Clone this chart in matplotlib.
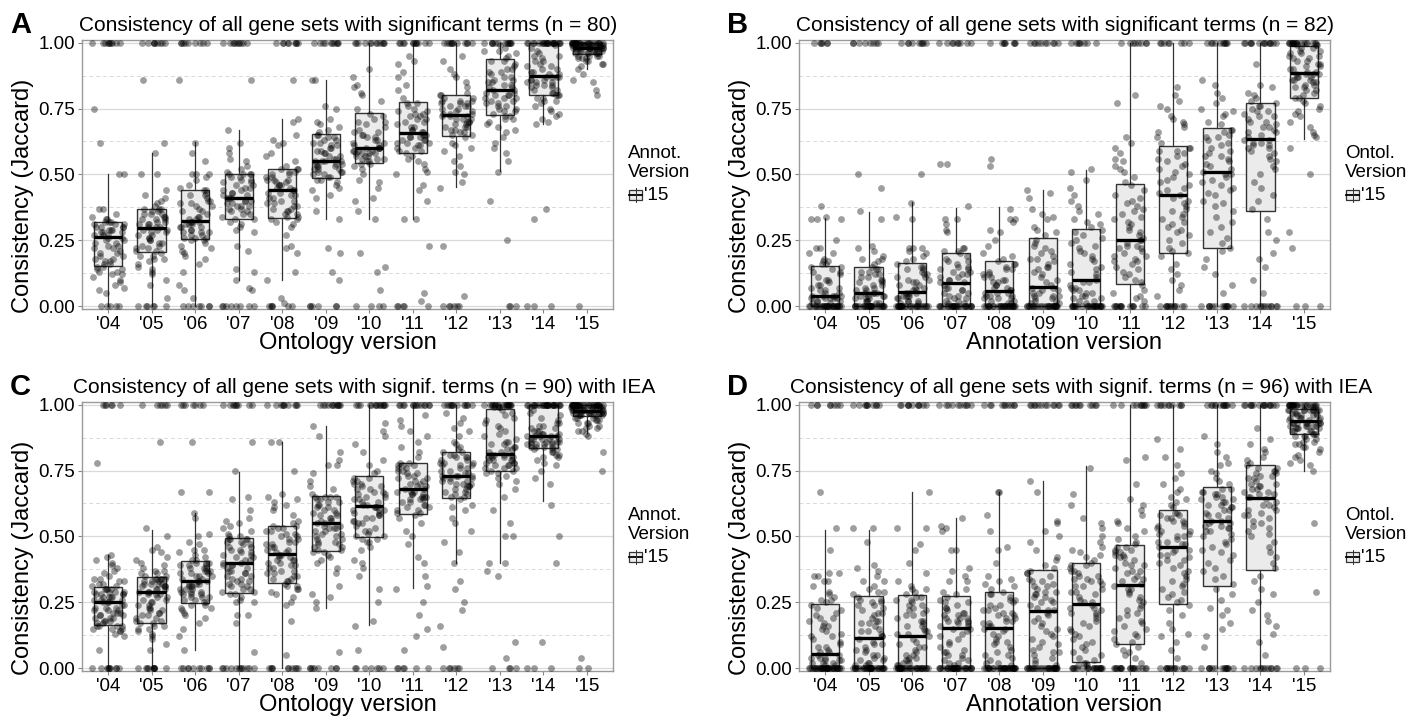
import numpy as np
import matplotlib.pyplot as plt
from matplotlib.patches import Rectangle
from matplotlib.lines import Line2D

plt.rcParams['font.family'] = ['Liberation Sans', 'DejaVu Sans']

years = ["'04", "'05", "'06", "'07", "'08", "'09", "'10", "'11", "'12", "'13", "'14", "'15"]

# ---- A: ontology versions, annotation '15, n = 80
a_q1 = [0.153, 0.204, 0.254, 0.329, 0.336, 0.487, 0.543, 0.582, 0.645, 0.726, 0.80, 0.956]
a_med = [0.264, 0.298, 0.322, 0.41, 0.44, 0.55, 0.60, 0.657, 0.725, 0.82, 0.874, 0.98]
a_q3 = [0.32, 0.369, 0.442, 0.50, 0.521, 0.655, 0.733, 0.776, 0.80, 0.937, 1.0, 1.0]
a_lo = [0.0, 0.0, 0.0, 0.099, 0.10, 0.33, 0.332, 0.332, 0.452, 0.512, 0.69, 0.90]
a_hi = [0.503, 0.58, 0.623, 0.667, 0.71, 0.86, 1.0, 1.0, 1.0, 1.0, 1.0, 1.0]
a_zeros = [5, 6, 7, 8, 6, 6, 4, 5, 6, 3, 3, 1]
a_ones = [10, 9, 9, 10, 9, 10, 12, 12, 12, 13, 22, 25]
a_mid = [
    "05 06 07 08 09 10 11 12 12 13 13 14 14 15 15 16 16 17 17 18 18 19 19 20 20 21 22 22 23 23 24 24 25 25 26 26 27 27 27 28 28 28 29 29 29 30 30 30 30 31 31 31 32 32 32 33 33 34 35 37 37 50 50 62 75",
    "03 08 10 12 13 14 15 16 17 18 18 19 19 20 21 21 22 22 23 23 24 24 25 25 26 26 27 27 28 28 29 29 29 30 30 30 31 31 31 32 32 33 33 33 34 34 35 35 35 36 36 37 37 37 38 39 40 41 42 44 50 50 58 62 86",
    "03 06 08 13 16 18 19 20 21 22 23 24 25 25 26 26 26 27 27 28 28 28 29 29 30 30 30 31 31 31 32 32 32 33 33 34 34 35 36 36 37 38 38 39 39 40 40 41 42 42 43 44 44 45 46 48 49 50 50 50 55 58 62 86",
    "06 07 10 13 14 21 23 28 29 30 31 32 33 33 34 35 35 36 36 37 37 38 38 38 39 39 40 40 40 41 41 41 42 42 43 43 44 44 45 45 46 46 47 47 48 48 49 49 50 50 50 50 51 52 53 55 56 58 60 62 67 86",
    "01 03 10 13 20 22 23 27 30 31 32 33 33 34 34 35 35 36 36 37 37 38 38 39 39 40 40 41 41 42 42 43 43 44 44 45 45 46 46 46 47 47 48 48 48 49 49 50 50 51 51 52 52 52 53 55 57 58 61 62 63 65 70 71 86",
    "10 13 20 22 33 36 41 42 44 45 46 47 48 48 49 49 50 50 51 51 51 52 52 52 53 53 53 54 54 54 55 55 55 55 56 56 57 57 58 58 59 59 60 60 61 61 62 62 63 63 64 64 65 65 66 67 68 69 70 71 75 76 86 86",
    "06 13 15 20 33 36 40 41 45 47 48 50 52 53 54 54 55 55 56 56 56 57 57 57 58 58 58 58 59 59 59 59 60 60 60 60 61 61 62 62 63 63 64 64 65 65 66 66 67 68 69 70 70 71 72 73 75 78 80 81 83 84 87 90",
    "02 05 23 33 33 40 44 46 50 51 52 54 55 56 57 58 59 59 60 60 61 61 62 62 62 63 63 63 64 64 64 65 65 65 66 66 67 67 68 68 69 70 70 71 71 72 72 73 73 74 74 75 76 77 77 79 82 84 87 89 92 93 95",
    "04 23 45 47 50 51 53 55 57 59 60 61 62 64 65 65 66 66 67 67 68 68 68 69 69 70 70 70 71 71 71 72 72 72 73 73 73 74 74 75 75 76 76 76 77 77 77 78 78 78 79 79 80 80 81 83 85 87 88 90 93 95",
    "25 40 51 55 58 60 62 64 66 67 68 69 70 71 71 72 72 73 74 74 75 75 76 76 77 77 78 78 79 79 79 80 80 80 81 81 82 82 83 83 84 84 85 85 86 86 87 87 88 89 89 90 90 91 92 93 93 94 95 96 97 97 98 99",
    "33 37 69 70 71 72 73 74 75 76 77 78 78 79 79 80 80 80 81 81 82 82 83 83 84 84 84 85 85 85 86 86 86 87 87 87 87 88 88 89 89 90 90 91 91 92 93 93 94 95 95 96 97 98 99",
    "80 82 85 86 88 90 91 92 92 93 93 94 94 94 95 95 95 95 96 96 96 96 96 96 97 97 97 97 97 97 98 98 98 98 98 98 98 98 98 98 98 99 99 99 99 99 99 99 99 99 99 99 99 99",
]

# ---- B: annotation versions, ontology '15, n = 82
b_q1 = [0.0, 0.0, 0.0, 0.0, 0.0, 0.0, 0.0, 0.085, 0.20, 0.219, 0.36, 0.79]
b_med = [0.037, 0.049, 0.053, 0.087, 0.059, 0.071, 0.099, 0.25, 0.42, 0.508, 0.636, 0.885]
b_q3 = [0.152, 0.147, 0.162, 0.20, 0.172, 0.257, 0.291, 0.465, 0.607, 0.676, 0.772, 0.986]
b_lo = [0.0, 0.0, 0.0, 0.0, 0.0, 0.0, 0.0, 0.0, 0.0, 0.0, 0.0, 0.636]
b_hi = [0.333, 0.358, 0.396, 0.374, 0.377, 0.44, 0.516, 1.0, 1.0, 1.0, 1.0, 1.0]
b_zeros = [28, 27, 27, 26, 27, 26, 25, 14, 12, 14, 12, 3]
b_ones = [6, 8, 9, 9, 8, 10, 8, 8, 8, 10, 14, 18]
b_mid = [
    "01 01 02 02 02 03 03 03 03 03 04 04 04 04 04 05 05 06 06 07 07 08 08 09 10 10 11 12 13 13 14 15 15 16 16 17 17 18 20 20 22 22 25 33 33 33 34 38",
    "01 01 02 02 02 03 03 03 04 04 04 04 05 05 05 05 06 06 07 07 08 08 09 09 10 10 11 11 12 12 13 13 14 14 15 16 17 18 18 19 21 22 23 33 36 45 50",
    "01 01 02 02 02 03 03 04 04 04 04 05 05 05 06 06 07 07 08 08 09 09 10 10 11 11 12 12 13 14 14 15 15 16 17 18 19 20 21 22 22 22 33 34 39 50",
    "01 01 02 02 03 03 04 04 05 05 06 06 07 07 08 09 09 10 10 11 11 12 12 13 13 14 14 15 15 16 17 17 18 19 20 21 21 22 22 28 29 31 33 33 38 54 54",
    "01 01 02 02 03 03 03 04 04 04 05 05 05 06 06 07 07 08 08 09 09 10 10 11 11 12 12 13 14 14 15 16 16 17 18 19 20 23 25 28 29 32 33 33 37 53 56",
    "01 01 02 02 03 03 04 04 04 05 05 06 06 07 07 08 09 10 11 12 13 14 15 15 16 17 18 18 19 20 21 22 23 24 25 27 28 29 30 33 34 35 37 41 43 44",
    "01 02 02 03 03 04 04 05 05 06 06 07 07 08 09 09 10 11 12 13 14 15 16 17 18 19 20 21 22 23 24 25 26 27 28 29 30 31 32 33 35 36 38 40 42 45 48 51 52",
    "02 03 04 05 06 08 09 10 11 12 13 14 15 16 17 17 18 19 19 20 21 22 22 23 23 24 25 25 26 27 28 29 30 31 32 33 34 35 36 37 38 39 40 41 42 44 46 47 49 51 52 53 55 56 58 60 62 64 77 80",
    "04 06 08 10 12 14 16 19 20 21 22 24 25 27 28 29 30 31 32 33 34 35 36 37 38 39 40 41 42 43 44 45 46 47 48 49 50 51 52 53 54 55 56 57 58 59 59 60 60 62 64 66 68 69 70 71 72 75 76 78 80 83",
    "05 08 12 15 18 21 22 24 26 28 30 32 34 36 38 39 40 42 43 44 45 46 47 48 49 50 50 51 52 53 54 55 56 57 57 58 59 60 61 62 63 64 64 65 66 67 67 69 70 72 73 74 75 77 79 81 84 86",
    "05 10 15 18 20 25 28 33 37 40 42 45 47 50 52 53 55 56 57 58 59 60 60 61 61 62 62 63 63 64 65 66 66 67 68 68 69 70 70 71 72 72 73 74 74 75 76 76 77 78 79 80 81 83 84 92",
    "22 28 50 60 64 65 66 68 70 72 73 74 75 76 77 78 79 79 80 81 82 82 83 83 84 84 85 85 86 86 86 87 87 87 88 88 88 88 89 89 90 90 91 91 92 92 93 93 94 94 95 95 96 96 97 97 98 98 99 99 99",
]

# ---- C: ontology versions with IEA, n = 90
c_q1 = [0.165, 0.172, 0.247, 0.285, 0.323, 0.445, 0.499, 0.586, 0.647, 0.749, 0.837, 0.956]
c_med = [0.25, 0.288, 0.329, 0.398, 0.433, 0.552, 0.614, 0.678, 0.73, 0.812, 0.88, 0.977]
c_q3 = [0.307, 0.345, 0.405, 0.495, 0.539, 0.655, 0.728, 0.78, 0.82, 0.984, 1.0, 1.0]
c_lo = [0.0, 0.0, 0.069, 0.0, 0.0, 0.229, 0.164, 0.305, 0.40, 0.40, 0.634, 0.893]
c_hi = [0.43, 0.526, 0.587, 0.746, 0.857, 0.92, 1.0, 1.0, 1.0, 1.0, 1.0, 1.0]
c_zeros = [10, 10, 10, 12, 10, 8, 7, 6, 6, 4, 3, 2]
c_ones = [6, 6, 7, 9, 10, 12, 14, 14, 13, 20, 26, 30]
c_mid = [
    "07 12 13 14 14 15 15 15 16 16 16 16 17 17 18 18 18 19 19 19 20 20 20 21 21 21 22 22 22 23 23 23 24 24 25 25 25 26 26 26 27 27 27 27 28 28 28 28 29 29 29 29 30 30 30 30 31 31 32 32 33 33 34 34 35 36 37 38 39 40 41 42 43 78",
    "07 09 11 12 13 14 15 15 16 16 17 17 18 18 19 19 20 20 21 21 22 22 23 23 24 24 25 25 26 26 27 27 28 28 28 29 29 29 30 30 30 31 31 31 31 32 32 32 32 33 33 33 34 34 34 34 34 35 35 36 36 37 37 38 39 40 41 42 44 45 46 50 53 86",
    "07 12 15 17 19 20 21 22 23 23 24 24 25 25 26 26 27 27 27 28 28 28 29 29 29 30 30 30 31 31 31 32 32 32 33 33 33 34 34 35 35 35 36 36 36 37 37 37 38 38 38 39 39 39 40 40 40 41 41 42 86 43 44 45 45 47 48 50 51 57 59 67 67",
    "06 17 20 20 25 25 26 27 28 28 29 29 30 30 31 31 32 32 33 33 34 34 35 35 36 36 37 37 38 38 39 39 39 40 40 41 41 42 42 43 43 44 44 45 45 46 46 47 47 48 48 49 49 49 49 50 50 51 52 53 54 55 56 57 60 64 65 75 86",
    "05 18 24 25 27 28 29 30 30 31 31 32 33 33 34 34 35 35 36 36 37 37 38 38 39 39 40 40 41 41 41 42 42 43 43 44 44 45 45 46 46 47 47 48 48 49 49 50 50 51 51 52 52 53 53 54 54 55 56 58 60 61 62 63 64 65 66 75 86 86",
    "06 23 25 27 28 31 36 38 40 41 42 43 44 44 45 45 46 46 47 47 48 48 49 49 50 50 51 51 52 52 53 53 53 54 54 55 55 56 56 57 57 58 58 59 59 60 60 61 61 62 62 63 63 64 64 65 65 65 65 66 68 69 71 74 77 77 79 82 88 92",
    "07 16 18 25 30 35 38 40 41 45 46 48 48 49 49 50 50 51 52 52 53 54 55 55 56 56 57 57 58 58 59 59 60 60 60 61 61 61 62 62 63 63 64 64 65 65 66 66 67 67 68 68 69 69 70 70 71 71 72 72 74 75 77 79 82 85 88 90 93",
    "07 12 15 20 25 30 31 35 40 42 47 50 52 55 57 58 59 59 60 60 61 61 62 62 63 63 64 64 64 65 65 65 66 66 66 67 67 67 68 68 69 69 70 70 71 71 72 72 73 73 74 74 75 75 76 76 77 77 77 78 78 80 82 84 86 88 90 92 94 96",
    "08 16 22 25 30 33 40 44 48 52 55 57 60 61 62 64 65 65 66 66 67 67 68 68 69 69 69 70 70 70 71 71 71 72 72 72 73 73 73 73 74 74 75 75 76 76 77 77 77 78 78 78 79 79 80 80 80 81 81 82 82 83 84 85 86 88 90 91 93 95 97",
    "04 10 35 37 40 40 50 50 55 60 65 68 70 71 72 73 74 74 75 75 76 76 76 77 77 77 78 78 78 79 79 79 79 80 80 80 80 81 81 81 81 82 82 83 83 84 84 85 85 86 86 87 88 89 90 91 92 93 94 95 96 97 98 99 99 99",
    "10 40 50 62 70 72 75 77 78 79 80 80 81 81 82 82 83 83 83 84 84 84 84 85 85 85 85 85 86 86 86 86 86 87 87 87 87 87 88 88 88 88 88 89 89 89 90 90 90 91 91 92 92 93 93 94 95 96 97 98 99",
    "04 75 82 88 89 90 90 91 91 92 92 93 93 93 94 94 94 95 95 95 96 96 96 96 96 96 97 97 97 97 97 97 97 97 97 97 98 98 98 98 98 98 98 98 98 98 99 99 99 99 99 99 99 99 99 99 99 99",
]

# ---- D: annotation versions with IEA, n = 96
d_q1 = [0.0, 0.0, 0.0, 0.0, 0.0, 0.0, 0.023, 0.09, 0.245, 0.312, 0.372, 0.888]
d_med = [0.053, 0.116, 0.123, 0.151, 0.151, 0.215, 0.243, 0.314, 0.459, 0.558, 0.645, 0.936]
d_q3 = [0.245, 0.274, 0.279, 0.272, 0.287, 0.372, 0.40, 0.469, 0.60, 0.689, 0.771, 0.985]
d_lo = [0.0, 0.0, 0.0, 0.0, 0.0, 0.0, 0.0, 0.0, 0.0, 0.0, 0.0, 0.748]
d_hi = [0.526, 0.526, 0.667, 0.57, 0.668, 0.711, 0.767, 1.0, 1.0, 1.0, 1.0, 1.0]
d_zeros = [35, 30, 30, 30, 30, 26, 20, 18, 14, 14, 12, 3]
d_ones = [8, 10, 11, 10, 10, 12, 10, 10, 10, 13, 16, 22]
d_mid = [
    "01 01 02 02 02 03 03 03 04 04 04 05 05 06 06 07 08 08 09 10 11 12 12 13 14 15 16 16 17 18 19 19 20 21 22 23 24 25 26 26 27 28 29 31 33 33 35 35 36 36 45 53 67",
    "01 01 02 02 03 03 04 04 05 05 06 07 07 08 09 09 10 11 12 12 13 14 14 15 16 17 17 18 18 19 20 21 21 22 23 24 24 25 25 26 26 27 28 29 29 30 31 33 33 35 37 38 39 48 53 53",
    "01 01 02 02 03 03 04 04 05 05 06 07 08 08 09 10 11 12 13 13 14 14 15 16 16 17 18 18 19 20 20 21 22 22 23 24 24 25 26 26 27 27 28 29 30 30 31 33 36 40 45 47 53 53 67",
    "01 02 02 03 03 04 05 05 06 06 07 08 09 10 11 12 13 14 15 15 16 16 17 17 18 18 18 19 19 19 20 20 21 21 22 23 23 24 25 25 26 27 28 29 30 33 33 35 37 38 45 45 52 53 54 57",
    "01 02 02 03 04 05 05 06 07 08 09 10 10 11 12 13 14 15 15 16 16 17 17 18 18 19 19 20 20 21 21 22 22 23 24 24 25 26 26 27 28 28 29 30 31 32 33 34 35 40 45 46 52 58 67 67",
    "01 02 03 04 05 06 06 07 08 09 10 11 12 13 14 15 16 17 18 19 20 21 22 22 23 24 25 25 26 27 27 28 28 29 29 30 31 31 32 33 33 34 35 36 36 37 38 39 41 42 45 48 50 52 55 56 67 71",
    "01 01 02 02 03 04 05 06 07 08 09 10 11 12 13 14 15 16 17 18 19 20 21 21 22 23 23 24 25 25 26 27 28 29 29 30 31 31 32 33 33 34 34 35 35 36 37 37 38 39 39 40 41 42 43 44 45 46 48 50 53 55 57 62 66 76",
    "02 04 05 06 07 08 09 10 11 12 13 14 15 16 17 18 19 20 21 22 23 24 25 26 27 28 29 30 30 31 32 33 34 34 35 36 37 37 38 39 39 40 41 42 42 43 43 44 44 45 45 46 46 47 48 49 50 52 53 55 56 58 60 62 64 70 79 80",
    "04 07 10 12 13 15 17 20 22 24 25 26 27 28 29 30 31 32 33 34 35 36 37 38 39 40 41 41 42 43 43 44 45 45 46 47 47 48 48 49 50 50 51 51 52 52 53 54 54 55 56 56 57 57 58 58 59 59 61 62 63 64 65 67 68 70 72 74 77 80 83 87",
    "08 12 15 17 20 22 23 26 28 30 32 34 35 37 38 40 41 43 44 45 46 47 48 49 50 51 52 52 53 53 54 54 55 55 56 56 57 58 58 59 60 60 61 61 62 62 63 63 64 64 65 65 66 66 67 67 68 68 70 71 72 74 75 77 78 80 82 85 88",
    "05 10 13 16 18 20 22 25 28 30 33 35 38 40 42 44 46 48 50 51 52 53 54 55 56 57 58 58 59 60 60 61 62 62 63 64 65 65 66 66 67 67 68 68 69 69 70 70 71 72 72 73 73 74 74 75 75 76 76 77 78 79 80 82 83 85 87 91",
    "29 55 75 77 78 79 80 81 82 83 84 84 85 85 86 86 87 87 88 88 88 89 89 89 90 90 90 90 91 91 91 91 92 92 92 92 92 93 93 93 93 93 93 93 93 94 94 94 95 95 95 95 96 96 96 96 97 97 97 97 98 98 98 98 98 98 98 98 98 99 99",
]

W, H = 1424, 717
fig = plt.figure(figsize=(W / 100, H / 100), dpi=100)


def px(x, y):
    return x / W, 1 - y / H


def parse(s):
    return [int(v) / 100 for v in s.split()]


def jitter(n, k):
    # horizontal spread of the dots (position only, like geom_jitter)
    i = np.arange(n) + 1.0
    h = np.sin(i * 12.9898 + (k + 1) * 78.233) * 43758.5453
    return (h - np.floor(h) - 0.5) * 0.76


def draw_panel(rect, q1, med, q3, lo, hi, zeros, ones, mids):
    ax = fig.add_axes(rect)
    stats = []
    for i in range(12):
        stats.append(dict(med=med[i], q1=q1[i], q3=q3[i], whislo=lo[i], whishi=hi[i], fliers=[]))
    ax.bxp(stats, positions=range(1, 13), widths=0.65, patch_artist=True,
           showcaps=False, showfliers=False,
           boxprops=dict(facecolor='#EBEBEB', edgecolor='#333333', linewidth=1.0),
           medianprops=dict(color='black', linewidth=2.4, solid_capstyle='butt'),
           whiskerprops=dict(color='#333333', linewidth=0.9), zorder=2)
    for i in range(12):
        ys = np.array([0.0] * zeros[i] + [1.0] * ones[i] + parse(mids[i]))
        xs = i + 1 + jitter(len(ys), i)
        ax.scatter(xs, ys, s=24, color='black', alpha=0.38, linewidths=0, zorder=3)
    ax.set_xlim(0.4, 12.6)
    ax.set_ylim(-0.011, 1.01)
    ax.set_xticks(range(1, 13))
    ax.set_xticklabels(years)
    ax.set_yticks([0, 0.25, 0.5, 0.75, 1.0])
    ax.set_yticklabels(['0.00', '0.25', '0.50', '0.75', '1.00'])
    ax.set_yticks([0.125, 0.375, 0.625, 0.875], minor=True)
    ax.grid(axis='y', which='major', color='#D9D9D9', lw=0.9)
    ax.grid(axis='y', which='minor', color='#D9D9D9', lw=0.7, ls=(0, (4, 3)))
    ax.set_axisbelow(True)
    ax.tick_params(which='minor', length=0)
    ax.tick_params(which='major', length=3, color='#888888', labelsize=13.5, pad=2)
    for sp in ax.spines.values():
        sp.set_color('#9A9A9A')
        sp.set_linewidth(1.0)
    return ax


def legend_glyph(x, y, title, label):
    # title lines, then a small boxplot key and its label (pixel coords)
    fig.text(*px(x, y - 31), title, fontsize=13.5, ha='left', va='center', linespacing=1.2)
    bx, by = px(x + 1, y + 6)
    bw, bh = 13 / W, 10 / H
    fig.add_artist(Rectangle((bx, by), bw, bh, transform=fig.transFigure,
                             facecolor='#EBEBEB', edgecolor='#333333', lw=0.9))
    cx = bx + bw / 2
    fig.add_artist(Line2D([bx, bx + bw], [by + bh / 2, by + bh / 2], transform=fig.transFigure,
                          color='black', lw=1.3))
    fig.add_artist(Line2D([cx, cx], [by - 2 / H, by + bh + 2 / H], transform=fig.transFigure,
                          color='#333333', lw=0.7))
    fig.text(*px(x + 16, y + 1), label, fontsize=13.5, ha='left', va='center')


panels = [
    ('A', (82, 40), "Consistency of all gene sets with significant terms (n = 80)", 'Ontology version',
     "Annot.\nVersion", (a_q1, a_med, a_q3, a_lo, a_hi, a_zeros, a_ones, a_mid)),
    ('B', (799, 40), "Consistency of all gene sets with significant terms (n = 82)", 'Annotation version',
     "Ontol.\nVersion", (b_q1, b_med, b_q3, b_lo, b_hi, b_zeros, b_ones, b_mid)),
    ('C', (82, 402), "Consistency of all gene sets with signif. terms (n = 90) with IEA", 'Ontology version',
     "Annot.\nVersion", (c_q1, c_med, c_q3, c_lo, c_hi, c_zeros, c_ones, c_mid)),
    ('D', (799, 402), "Consistency of all gene sets with signif. terms (n = 96) with IEA", 'Annotation version',
     "Ontol.\nVersion", (d_q1, d_med, d_q3, d_lo, d_hi, d_zeros, d_ones, d_mid)),
]

for letter, (lx, ty), title, xlabel, legtitle, data in panels:
    aw, ah = 531, 269
    rect = [lx / W, 1 - (ty + ah) / H, aw / W, ah / H]
    ax = draw_panel(rect, *data)
    fig.text(*px(lx - 72, ty - 7), letter, fontsize=21, fontweight='bold', ha='left', va='baseline')
    fig.text(*px(lx - 3 - (6 if letter in 'CD' else 0), ty - 9), title, fontsize=15, ha='left', va='baseline')
    fig.text(*px(lx - 59, ty + 156), 'Consistency (Jaccard)', fontsize=17, rotation=90,
             ha='center', va='center')
    fig.text(*px(lx + aw / 2, ty + 303), xlabel, fontsize=17, ha='center', va='center')
    legend_glyph(lx + 546, ty + 154, legtitle, "'15")

fig.savefig('out.png', dpi=100)
